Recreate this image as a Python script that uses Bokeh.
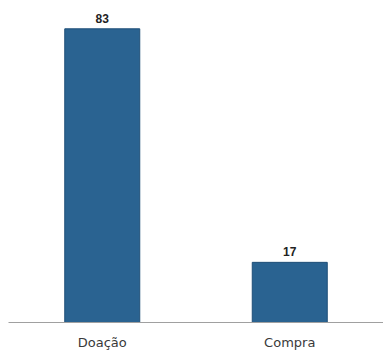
from bokeh.plotting import figure
from bokeh.models import ColumnDataSource, LabelSet, FactorRange
from bokeh.core.properties import value
from bokeh.embed import file_html
from bokeh.resources import INLINE

categories = ["Doação", "Compra"]
values = [83, 17]
labels = ["83", "17"]

source = ColumnDataSource(dict(cat=categories, val=values, lab=labels))

p = figure(x_range=FactorRange(*categories, range_padding=0),
           y_range=(0, 91),
           width=383, height=352, output_backend="svg", toolbar_location=None,
           min_border_left=8, min_border_right=0, min_border_top=0, min_border_bottom=28)

p.vbar(x="cat", top="val", width=0.4, source=source,
       fill_color="#2a6391", line_color="#1f4f78", line_width=1)

p.add_layout(LabelSet(x="cat", y="val", text="lab", source=source,
                      text_align="center", text_baseline="bottom", y_offset=6,
                      text_font=value("Liberation Sans"), text_font_style="bold",
                      text_font_size="12px", text_color="#222222"))

p.yaxis.visible = False
p.grid.visible = False
p.outline_line_color = None
p.background_fill_color = "#ffffff"
p.border_fill_color = "#ffffff"

p.xaxis.axis_line_color = "#a0a0a0"
p.xaxis.major_tick_line_color = None
p.xaxis.major_tick_out = 0
p.xaxis.major_tick_in = 0
p.xaxis.minor_tick_line_color = None
p.xaxis.major_label_standoff = 12
p.xaxis.major_label_text_font = "DejaVu Sans"
p.xaxis.major_label_text_font_size = "13px"
p.xaxis.major_label_text_color = "#3a3a3a"

open("out.html", "w").write(file_html(p, INLINE))
